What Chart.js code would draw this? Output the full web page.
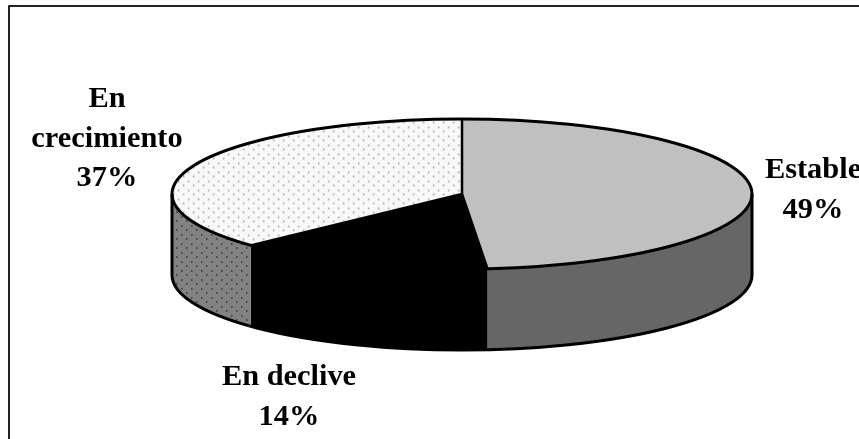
<!DOCTYPE html>
<html>
<head>
<meta charset="utf-8">
<style>html,body{margin:0;padding:0;background:#fff}canvas{display:block}</style>
<script src="https://cdn.jsdelivr.net/npm/chart.js@4"></script>
</head>
<body>
<canvas id="c" width="859" height="439"></canvas>
<script>
const categories = ['Estable', 'En declive', 'En crecimiento'];
const shares = [48.6, 14.4, 37];
const labelLines = [['Estable', '49%'], ['En declive', '14%'], ['En', 'crecimiento', '37%']];

function dotted(bg, dot, dot2, inv) {
  const s = document.createElement('canvas');
  s.width = 10; s.height = 9;
  const g = s.getContext('2d');
  g.fillStyle = bg; g.fillRect(0, 0, 10, 9);
  g.fillStyle = dot;
  g.fillRect(1, 0, 1, 2); g.fillRect(6, 4, 1, 2);
  g.fillStyle = dot2;
  g.fillRect(2, 0, 1, 2); g.fillRect(7, 4, 1, 2);
  const p = document.createElement('canvas').getContext('2d').createPattern(s, 'repeat');
  if (inv) p.setTransform(inv);
  return p;
}
const CX = 462, CY = 194, RX = 290, RY = 75, DEPTH = 81;
const R = 190;
const SX = RX / R, SY = RY / R;
const topInv = new DOMMatrix().scale(1 / SX, 1 / SY);

const topColors = ['#c0c0c0', '#000000', dotted('#f8f8f8', '#acacac', '#d4d4d4', topInv)];
const sideColors = ['#666666', '#000000', dotted('#828282', '#484848', '#626262')];

function slicePath(ctx, a, dy, from, to, ccw) {
  ctx.ellipse(a.x, a.y + dy, RX, RY, 0, from, to, ccw);
}
const pie3d = {
  id: 'pie3d',
  beforeDatasetsDraw(chart) {
    const ctx = chart.ctx;
    const arcs = chart.getDatasetMeta(0).data;
    arcs.forEach((a, i) => {
      const from = Math.max(a.startAngle, 0);
      const to = Math.min(a.endAngle, Math.PI);
      if (to <= from) return;
      ctx.beginPath();
      slicePath(ctx, a, 0, from, to, false);
      slicePath(ctx, a, DEPTH, to, from, true);
      ctx.closePath();
      ctx.fillStyle = sideColors[i];
      ctx.fill();
    });
    ctx.save();
    ctx.translate(CX, CY);
    ctx.scale(SX, SY);
    ctx.translate(-CX, -CY);
  },
  afterDatasetsDraw(chart) {
    const ctx = chart.ctx;
    ctx.restore();
    const arcs = chart.getDatasetMeta(0).data;
    const a0 = arcs[0];
    ctx.save();
    ctx.strokeStyle = '#000';
    ctx.lineWidth = 3;
    ctx.lineJoin = 'round';
    ctx.beginPath();
    ctx.ellipse(a0.x, a0.y, RX, RY, 0, 0, Math.PI * 2);
    ctx.stroke();
    ctx.beginPath();
    ctx.moveTo(a0.x + RX, a0.y);
    ctx.lineTo(a0.x + RX, a0.y + DEPTH);
    ctx.ellipse(a0.x, a0.y + DEPTH, RX, RY, 0, 0, Math.PI);
    ctx.lineTo(a0.x - RX, a0.y);
    ctx.stroke();
    ctx.lineWidth = 2.5;
    arcs.forEach(a => {
      ctx.beginPath();
      ctx.moveTo(a.x, a.y);
      ctx.lineTo(a.x + RX * Math.cos(a.startAngle), a.y + RY * Math.sin(a.startAngle));
      ctx.stroke();
    });
    ctx.strokeStyle = '#222';
    ctx.lineWidth = 2;
    ctx.beginPath();
    ctx.moveTo(9, 439);
    ctx.lineTo(9, 6);
    ctx.lineTo(859, 6);
    ctx.stroke();
    ctx.fillStyle = '#000';
    ctx.font = 'bold 30.4px "Liberation Serif"';
    ctx.textAlign = 'center';
    ctx.textBaseline = 'alphabetic';
    const anchors = [[813, 178], [289, 385], [107, 107]];
    labelLines.forEach((lines, i) => {
      lines.forEach((t, j) => ctx.fillText(t, anchors[i][0], anchors[i][1] + j * 39.5));
    });
    ctx.restore();
  }
};

new Chart(document.getElementById('c'), {
  type: 'pie',
  data: {
    labels: categories,
    datasets: [{ data: shares, backgroundColor: topColors, borderWidth: 0, hoverOffset: 0 }]
  },
  options: {
    responsive: false,
    animation: false,
    layout: { padding: { left: CX - R, right: 859 - CX - R, top: CY - R, bottom: 439 - CY - R } },
    plugins: { legend: { display: false }, tooltip: { enabled: false } }
  },
  plugins: [pie3d]
});
</script>
</body>
</html>
